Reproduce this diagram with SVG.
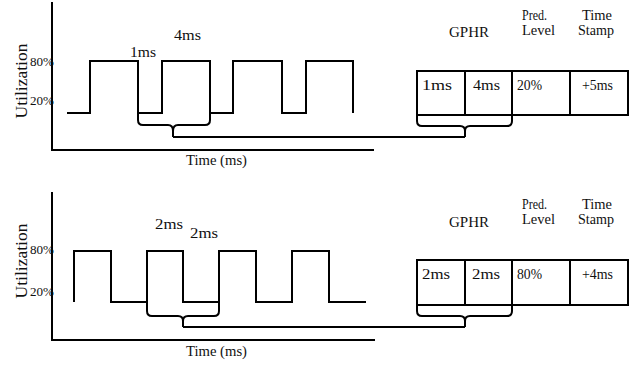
<svg xmlns="http://www.w3.org/2000/svg" width="633" height="366" viewBox="0 0 633 366">
<style>
.ln{fill:none;stroke:#000;stroke-width:2;stroke-linejoin:miter}
.br{fill:none;stroke:#000;stroke-width:2}
text{font-family:"Liberation Serif","Times New Roman",serif;fill:#111}
.t{font-size:14.5px}
.tk{font-size:11.5px}
.ut{font-size:17.5px;text-anchor:middle}
</style>
<rect width="633" height="366" fill="#fff"/>
<g id="chart-top">
<path class="ln" d="M52,2 V150 H374"/>
<text class="ut" transform="rotate(-90)" x="-81" y="27">Utilization</text>
<text class="tk" x="30" y="66" textLength="24" lengthAdjust="spacingAndGlyphs">80%</text>
<text class="tk" x="30" y="105" textLength="24" lengthAdjust="spacingAndGlyphs">20%</text>
<path class="ln" d="M67,113 H90 V61 H138 V113 H162 V61 H210 V113 H233 V61 H282 V113 H306 V61 H353 V113"/>
<text class="t" x="174" y="40" textLength="27" lengthAdjust="spacingAndGlyphs">4ms</text>
<text class="t" x="130" y="57" textLength="26" lengthAdjust="spacingAndGlyphs">1ms</text>
<text class="t" x="186" y="165" textLength="61" lengthAdjust="spacingAndGlyphs">Time (ms)</text>
</g>
<g id="table-top">
<text class="t" x="449" y="37" textLength="40" lengthAdjust="spacingAndGlyphs">GPHR</text>
<text class="t" x="522" y="20" textLength="25" lengthAdjust="spacingAndGlyphs">Pred.</text>
<text class="t" x="522" y="35" textLength="33" lengthAdjust="spacingAndGlyphs">Level</text>
<text class="t" x="582" y="20" textLength="30" lengthAdjust="spacingAndGlyphs">Time</text>
<text class="t" x="578" y="35" textLength="36" lengthAdjust="spacingAndGlyphs">Stamp</text>
<path class="ln" d="M417,71 H628 V115 H417 Z M465,71 V115 M512,71 V115 M570,71 V115"/>
<text class="t" x="422" y="90" textLength="30" lengthAdjust="spacingAndGlyphs">1ms</text>
<text class="t" x="473" y="90" textLength="27" lengthAdjust="spacingAndGlyphs">4ms</text>
<text class="t" x="517" y="90" textLength="25" lengthAdjust="spacingAndGlyphs">20%</text>
<text class="t" x="582" y="90" textLength="31" lengthAdjust="spacingAndGlyphs">+5ms</text>
</g>
<g id="chart-bottom">
<path class="ln" d="M52,192 V340 H375"/>
<text class="ut" transform="rotate(-90)" x="-261" y="27">Utilization</text>
<text class="tk" x="30" y="254" textLength="24" lengthAdjust="spacingAndGlyphs">80%</text>
<text class="tk" x="30" y="296" textLength="24" lengthAdjust="spacingAndGlyphs">20%</text>
<path class="ln" d="M74,302 V251 H111 V302 H147 V251 H183 V302 H219 V251 H256 V302 H292 V251 H329 V302 H366"/>
<text class="t" x="155" y="229" textLength="28" lengthAdjust="spacingAndGlyphs">2ms</text>
<text class="t" x="190" y="238" textLength="28" lengthAdjust="spacingAndGlyphs">2ms</text>
<text class="t" x="186" y="356" textLength="61" lengthAdjust="spacingAndGlyphs">Time (ms)</text>
</g>
<g id="table-bottom">
<text class="t" x="449" y="227" textLength="40" lengthAdjust="spacingAndGlyphs">GPHR</text>
<text class="t" x="522" y="209" textLength="25" lengthAdjust="spacingAndGlyphs">Pred.</text>
<text class="t" x="522" y="224" textLength="33" lengthAdjust="spacingAndGlyphs">Level</text>
<text class="t" x="582" y="209" textLength="30" lengthAdjust="spacingAndGlyphs">Time</text>
<text class="t" x="578" y="224" textLength="36" lengthAdjust="spacingAndGlyphs">Stamp</text>
<path class="ln" d="M417,260 H628 V305 H417 Z M465,260 V305 M512,260 V305 M570,260 V305"/>
<text class="t" x="422" y="279" textLength="28" lengthAdjust="spacingAndGlyphs">2ms</text>
<text class="t" x="472" y="279" textLength="28" lengthAdjust="spacingAndGlyphs">2ms</text>
<text class="t" x="517" y="279" textLength="25" lengthAdjust="spacingAndGlyphs">80%</text>
<text class="t" x="582" y="279" textLength="31" lengthAdjust="spacingAndGlyphs">+4ms</text>
</g>
<g id="connectors">
<path class="br" d="M138,113 V120 Q138,125 143,125 H168 Q173,125 173,131 V137 M210,113 V120 Q210,125 205,125 H178 Q173,125 173,131"/>
<path class="br" d="M173,137 H465"/>
<path class="br" d="M417,115 V121 Q417,126 422,126 H460 Q465,126 465,131 V137 M512,115 V121 Q512,126 507,126 H470 Q465,126 465,131"/>
<path class="br" d="M147,303 V311 Q147,316 152,316 H178 Q183,316 183,321 V327 M219,303 V311 Q219,316 214,316 H188 Q183,316 183,321"/>
<path class="br" d="M183,327 H465"/>
<path class="br" d="M417,305 V311 Q417,316 422,316 H460 Q465,316 465,321 V327 M512,305 V311 Q512,316 507,316 H470 Q465,316 465,321"/>
</g>
</svg>
